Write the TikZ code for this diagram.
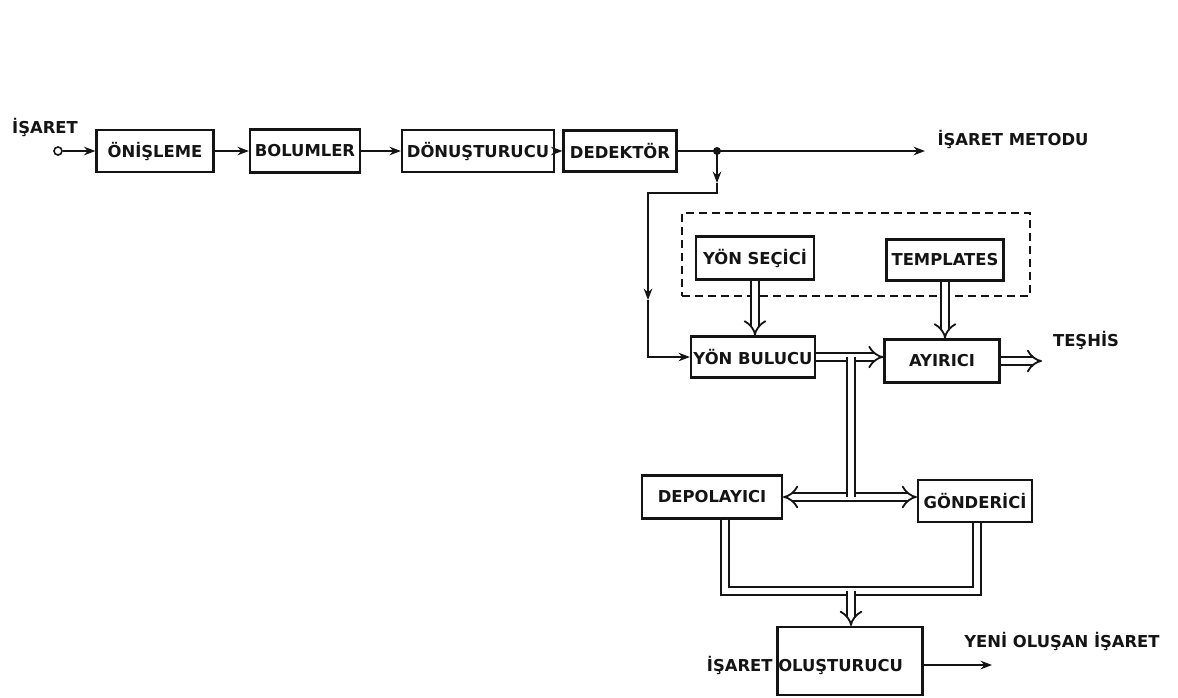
\documentclass[tikz,border=0pt]{standalone}
\usepackage{fontspec}
\setmainfont{DejaVu Sans}
\usepackage{xcolor}
\usetikzlibrary{arrows.meta}
\definecolor{ink}{HTML}{141414}
\tikzset{
  ar/.style={-{Stealth[length=2mm,width=1.5mm]},line width=0.9pt,ink},
  box/.style={draw=ink,line width=1.1pt,inner sep=0pt,font=\bfseries\fontsize{8.2}{9}\selectfont,text=ink},
  lbl/.style={inner sep=0pt,font=\bfseries\fontsize{8.2}{9}\selectfont,text=ink},
  dbl/.style={draw=ink,line width=0.9pt,double=white,double distance=3pt},
  grp/.style={draw=ink,line width=0.9pt,dash pattern=on 4pt off 2.5pt}
}

\begin{document}
\begin{tikzpicture}[x=0.5pt,y=-0.5pt]
\useasboundingbox (0,0) rectangle (1178,697);
% upper chain
\node[lbl] (inlbl) at (45,127) {İŞARET};
\node[draw=ink,circle,inner sep=0pt,minimum size=4pt,line width=0.8pt] (in) at (58,151) {};
\node[box,minimum width=58.5pt,minimum height=21pt] (on) at (155,151) {ÖNİŞLEME};
\node[box,minimum width=55pt,minimum height=21.5pt] (bol) at (305,151) {BOLUMLER};
\node[box,minimum width=76pt,minimum height=21pt] (don) at (478,151) {DÖNUŞTURUCU};
\node[box,minimum width=56.5pt,minimum height=20.5pt] (ded) at (620,151) {DEDEKTÖR};
\coordinate (j) at (717,151);
\coordinate (metend) at (925,151);
\node[lbl] (metodu) at (1013,139) {İŞARET METODU};
\draw[ar] (in) -- (on.west);
\draw[ar] (on) -- (bol);
\draw[ar] (bol) -- (don);
\draw[ar] (don) -- (ded);
\draw[ar] (ded.east) -- (metend);
\fill[ink] (j) circle (2pt);
% dashed group
\node[grp,minimum width=174pt,minimum height=41.5pt] (grp) at (856,254.5) {};
\node[box,minimum width=59pt,minimum height=21.5pt] (sec) at (755,258) {YÖN SEÇİCİ};
\node[box,minimum width=58.5pt,minimum height=20.5pt] (tem) at (945,260) {TEMPLATES};
% middle row
\node[box,minimum width=62pt,minimum height=20.5pt] (bul) at (753,357) {YÖN BULUCU};
\node[box,minimum width=57.5pt,minimum height=21.5pt] (ayi) at (942,361) {AYIRICI};
\coordinate (tesend) at (1042,361);
\node[lbl] (teshis) at (1086,340) {TEŞHİS};
\coordinate (ja) at (717,183);
\coordinate (jb) at (717,193);
\coordinate (jc) at (648,300);
\draw[ar] (j) -- (ja);
\draw[ar] (ja) -- (jb) -| (jc);
\draw[ar] (jc) |- (bul.west);
\draw[dbl,-Implies] (sec.south) -- (sec.south |- bul.north);
\draw[dbl,-Implies] (tem.south) -- (tem.south |- ayi.north);
\draw[dbl,-Implies] (bul.east) -- (bul.east -| ayi.west);
\draw[dbl,-Implies] (ayi.east) -- (tesend);
% storage and sender
\node[box,minimum width=70pt,minimum height=21.5pt] (dep) at (712,497) {DEPOLAYICI};
\node[box,minimum width=57pt,minimum height=21pt] (gon) at (975,501) {GÖNDERİCİ};
\coordinate (sp) at (851,357);
\coordinate (sq) at (851,497);
\draw[dbl,{Implies}-{Implies}] (dep.east) -- (dep.east -| gon.west);
\draw[dbl] (sp) -- (sq);
% output
\node[box,minimum width=72.5pt,minimum height=34pt] (olus) at (850,661) {};
\node[lbl] (olustxt) at (805,665) {İŞARET OLUŞTURUCU};
\coordinate (m) at (851,591);
\draw[dbl] ([xshift=6.5pt]dep.south) |- (m) -| ([xshift=1pt]gon.south);
\draw[dbl,-Implies] (m) -- (m |- olus.north);
\coordinate (yend) at (992,665);
\draw[ar] (olus.east |- yend) -- (yend);
\node[lbl] (yeni) at (1062,641) {YENİ OLUŞAN İŞARET};
\end{tikzpicture}
\end{document}
